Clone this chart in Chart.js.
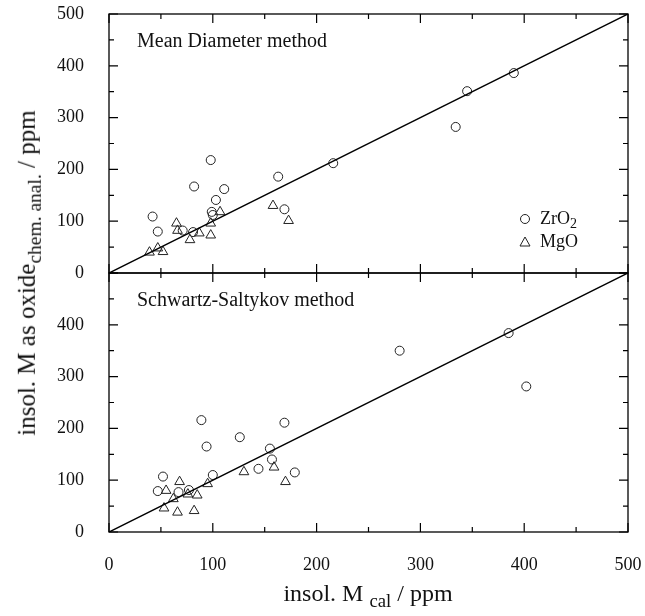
<!DOCTYPE html>
<html>
<head>
<meta charset="utf-8">
<script src="https://cdn.jsdelivr.net/npm/chart.js@4.4.1/dist/chart.umd.min.js"></script>
<style>
  body { margin: 0; background: #fff; }
  #wrap { position: relative; width: 645px; height: 616px; }
  #chart { position: absolute; left: 0; top: 0; }
  .txt { position: absolute; font-family: "Liberation Serif", "Times New Roman", serif; color: #111; white-space: nowrap; line-height: 1; }
  .txt sub { font-size: 0.78em; vertical-align: -0.3em; }
  .leg svg { vertical-align: -1px; margin-right: 9px; }
</style>
</head>
<body>
<div id="wrap">
  <canvas id="chart" width="645" height="616"></canvas>
  <div class="txt" style="left:137px;top:30px;font-size:20px;">Mean Diameter method</div>
  <div class="txt" style="left:137px;top:289px;font-size:20px;">Schwartz-Saltykov method</div>
  <div class="txt leg" style="left:519px;top:209px;font-size:18px;">
    <svg width="12" height="12"><circle cx="6" cy="6" r="4.5" fill="none" stroke="#222" stroke-width="1"/></svg>ZrO<sub>2</sub>
  </div>
  <div class="txt leg" style="left:519px;top:232px;font-size:18px;">
    <svg width="12" height="12"><polygon points="6,1 11,10 1,10" fill="none" stroke="#222" stroke-width="1"/></svg>MgO
  </div>
  <div class="txt" style="left:29px;top:273px;font-size:25px;transform:translate(-50%,-50%) rotate(-90deg);">insol. M as oxide<sub>chem. anal.</sub> / ppm</div>
  <div class="txt" style="left:368px;top:596px;font-size:24px;transform:translate(-50%,-50%);">insol. M <sub>cal</sub> / ppm</div>
</div>
<script>
// top panel: Mean Diameter method
const mdZrX = [42, 47, 82, 98, 111, 103, 99, 100, 71, 81, 163, 169, 216, 334, 345, 390];
const mdZrY = [109, 80, 167, 218, 162, 141, 118, 112, 82, 79, 186, 123, 212, 282, 351, 386];
const mdMgX = [39, 47, 52, 65, 66, 78, 87, 98, 98, 107, 158, 173];
const mdMgY = [40, 48, 41, 96, 82, 64, 77, 96, 73, 118, 130, 101];

// bottom panel: Schwartz-Saltykov method
const ssZrX = [89, 126, 94, 155, 169, 157, 144, 179, 100, 52, 47, 67, 77, 280, 385, 402];
const ssZrY = [216, 183, 165, 161, 211, 140, 122, 115, 110, 107, 79, 77, 81, 350, 384, 281];
const ssMgX = [55, 68, 62, 53, 66, 76, 82, 85, 95, 130, 159, 170];
const ssMgY = [80, 97, 64, 46, 38, 73, 41, 71, 93, 116, 125, 97];

const parityLine = [0, 500];
const axisTicks = [0, 100, 200, 300, 400, 500];

function pts(xs, ys) {
    return xs.map((x, i) => ({ x: x, y: ys[i] }));
}

const circleStyle = { pointStyle: 'circle', pointRadius: 4.5, pointBorderWidth: 1, pointBorderColor: '#222', pointBackgroundColor: 'rgba(0,0,0,0)' };
const triStyle = { pointStyle: 'triangle', pointRadius: 5.6, pointBorderWidth: 1, pointBorderColor: '#222', pointBackgroundColor: 'rgba(0,0,0,0)' };
const lineStyle = { type: 'line', showLine: true, borderColor: '#000', borderWidth: 1.5, pointRadius: 0 };

// inward ticks + frame on each panel
const frameTicks = {
    id: 'frameTicks',
    afterDatasetsDraw(chart) {
        const ctx = chart.ctx;
        const xs = chart.scales.x;
        ['yTop', 'yBot'].forEach(id => {
            const ys = chart.scales[id];
            const top = ys.top, bottom = ys.bottom, left = xs.left, right = xs.right;
            ctx.save();
            ctx.strokeStyle = '#000';
            ctx.lineWidth = 1.3;
            ctx.strokeRect(left, top, right - left, bottom - top);
            ctx.lineWidth = 1.2;
            ctx.beginPath();
            for (let v = 0; v <= 500; v += 50) {
                const len = v % 100 === 0 ? 9 : 5;
                const px = xs.getPixelForValue(v);
                ctx.moveTo(px, bottom); ctx.lineTo(px, bottom - len);
                ctx.moveTo(px, top); ctx.lineTo(px, top + len);
                const py = ys.getPixelForValue(v);
                ctx.moveTo(left, py); ctx.lineTo(left + len, py);
                ctx.moveTo(right, py); ctx.lineTo(right - len, py);
            }
            ctx.stroke();
            ctx.restore();
        });
    }
};

Chart.defaults.font.family = '"Liberation Serif", "Times New Roman", serif';
Chart.defaults.font.size = 18;
Chart.defaults.color = '#111';

const yCommon = {
    type: 'linear',
    min: 0,
    max: 500,
    stack: 'panels',
    stackWeight: 1,
    offset: false,
    grid: { display: false },
    border: { display: false },
    afterFit: s => { s.width = 109; s.paddingTop = 0; s.paddingBottom = 0; },
    afterBuildTicks: s => { s.ticks = axisTicks.map(v => ({ value: v })); }
};

new Chart(document.getElementById('chart'), {
    type: 'scatter',
    data: {
        datasets: [
            Object.assign({ data: pts(parityLine, parityLine), yAxisID: 'yTop' }, lineStyle),
            Object.assign({ label: 'ZrO2', data: pts(mdZrX, mdZrY), yAxisID: 'yTop' }, circleStyle),
            Object.assign({ label: 'MgO', data: pts(mdMgX, mdMgY), yAxisID: 'yTop' }, triStyle),
            Object.assign({ data: pts(parityLine, parityLine), yAxisID: 'yBot' }, lineStyle),
            Object.assign({ label: 'ZrO2', data: pts(ssZrX, ssZrY), yAxisID: 'yBot' }, circleStyle),
            Object.assign({ label: 'MgO', data: pts(ssMgX, ssMgY), yAxisID: 'yBot' }, triStyle)
        ]
    },
    options: {
        responsive: false,
        animation: false,
        layout: { padding: { top: 14, right: 17, left: 0, bottom: 0 } },
        plugins: { legend: { display: false }, tooltip: { enabled: false } },
        scales: {
            x: {
                type: 'linear',
                min: 0,
                max: 500,
                offset: false,
                grid: { display: false },
                border: { display: false },
                ticks: { padding: 14 },
                afterFit: s => { s.height = 84; s.paddingLeft = 0; s.paddingRight = 0; },
                afterBuildTicks: s => { s.ticks = axisTicks.map(v => ({ value: v })); }
            },
            yBot: Object.assign({}, yCommon, {
                position: 'left',
                ticks: { padding: 17, callback: v => (v === 500 ? '' : v) }
            }),
            yTop: Object.assign({}, yCommon, {
                position: 'left',
                ticks: { padding: 17 }
            })
        }
    },
    plugins: [frameTicks]
});
</script>
</body>
</html>
